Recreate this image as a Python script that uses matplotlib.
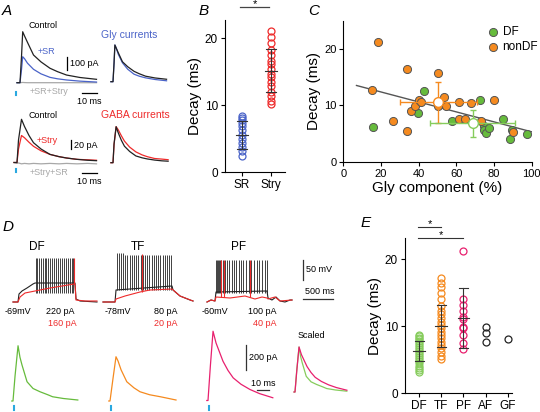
import numpy as np
import matplotlib.pyplot as plt

plt.rcParams['font.family'] = ['Liberation Sans', 'DejaVu Sans']
plt.rcParams['axes.linewidth'] = 0.8

W, H = 540, 412
fig = plt.figure(figsize=(5.4, 4.12), dpi=100)

BLUE = '#4a63c8'
RED = '#ee2a2a'
GREY = '#a8a8a8'
STIM = '#2aa8e0'
GREEN = '#66bb3c'
LGREEN = '#86cc5c'
ORANGE = '#f58a1f'
PINK = '#e8206e'

# ---------------- data ----------------
# A: evoked currents (ms, pA)
t_gly = [-2, 0, 1, 1.8, 3, 5, 9, 14, 20, 25, 31, 40, 51]
gly_ctrl = [0, 0, 200, 392, 360, 310, 213, 160, 111, 85, 59, 40, 26]
gly_sr = [0, 0, 100, 200, 185, 150, 103, 68, 41, 30, 21, 12, 5]
gly_block = [0, 0, 1, 2, 1, 0, 0, 0, 0, 0, 0, 0, 0]

t_gaba = [-2, 0, 1, 3, 5, 8, 11, 16, 22, 28, 33, 40, 47, 53]
gaba_ctrl = [0, 0, 50, 96, 80, 60, 44, 30, 18, 13, 10, 7, 5, 4]
gaba_stry = [0, 0, 30, 60, 55, 45, 36, 26, 18, 13, 10, 7, 6, 5]
gaba_block = [0, -2, -1, -3, -2, -3, -2, -3, -2, -3, -2, -3, -2, -3]

# B
b_cats = ['SR', 'Stry']
b_sr = [8.3, 8.1, 7.7, 7.3, 6.9, 6.3, 5.6, 4.9, 4.3, 3.7, 3.1, 2.4]
b_stry = [21.0, 20.1, 19.2, 18.2, 17.4, 16.6, 16.2, 15.4, 14.7, 14.2, 13.5,
          12.8, 11.9, 11.3, 10.6, 10.1]
b_mean = [5.5, 15.1]
b_sd = [2.1, 3.2]

# C: Gly component (%) vs decay (ms)
df_gly = [15.9, 42.7, 39.5, 57.9, 72.6, 74.5, 74.9, 75.9, 77.5, 85.0, 89.6, 88.5, 97.3]
df_dec = [6.1, 12.6, 8.7, 7.2, 11.0, 6.3, 5.6, 5.1, 6.0, 7.5, 5.6, 4.1, 4.9]
ndf_gly = [18.2, 15.0, 33.8, 50.4, 26.4, 33.6, 35.8, 38.2, 40.0, 41.2, 53.5, 54.5,
           50.3, 61.6, 61.6, 64.4, 68.0, 73.3, 80.2, 89.9]
ndf_dec = [21.2, 12.8, 16.4, 15.8, 7.2, 5.4, 9.0, 9.8, 10.9, 10.5, 11.5, 9.8,
           9.8, 10.6, 7.5, 7.5, 10.4, 7.2, 10.9, 5.2]
ndf_mean = (50.4, 10.5, 20.4, 3.7)   # x, y, xerr, yerr
df_mean = (68.8, 6.8, 22.6, 2.4)

# D: firing patterns (ms, mV)
df_v_t = [0, 83, 100, 150, 233, 333, 367, 1033, 1050, 1117, 1400]
df_v = [-69, -69, -49, -41.5, -34, -24, -21.5, -21.5, -61.5, -66.5, -69]
df_spk = [375, 405, 437, 467, 497, 528, 558, 590, 620, 650, 683, 717, 750,
          783, 817, 850, 883, 917, 950, 983, 1008]
df_vr_t = [0, 83, 117, 200, 367, 617, 1017, 1033, 1050, 1200, 1400]
df_vr = [-69, -69, -56.5, -46.5, -41.5, -34, -24, -24, -64, -66.5, -66.5]
df_spk_r = [1017]

tf_v_t = [0, 200, 217, 1150, 1167, 1283, 1450, 1500]
tf_v = [-78, -78, -48, -38, -48, -63, -73, -75.5]
tf_spk = [233, 267, 300, 333, 370, 407, 443, 480, 517, 553, 590, 627, 663, 700,
          737, 773, 810, 847, 883, 920, 957, 993, 1030, 1067, 1103, 1140]
tf_vr_t = [0, 200, 217, 367, 617, 783, 1150, 1283, 1500]
tf_vr = [-78, -78, -70.5, -63, -53, -48, -45.5, -63, -75.5]
tf_spk_r = [650]

pf_v_t = [0, 67, 133, 150, 1000, 1017, 1083, 1150, 1217, 1300, 1383, 1417]
pf_v = [-60, -55, -57.5, -35, -32.5, -50, -55, -47.5, -57.5, -60, -55, -55]
pf_spk = [150, 167, 183, 200, 217, 239, 267, 300, 333, 372, 412, 450, 488, 528,
          567, 605, 650, 695, 738, 783, 828, 872, 917, 962, 1005]
pf_vr_t = [0, 67, 133, 150, 383, 633, 800, 917, 1000, 1017, 1133, 1217, 1417]
pf_vr = [-60, -55, -57.5, -47.5, -50, -45, -52.5, -47.5, -50, -52.5, -47.5, -57.5, -55]
pf_spk_r = [228, 283, 717]

# D: evoked currents per firing type (ms, pA)
t_dfc = [-1, 0, 1.7, 4.2, 5.8, 7.5, 11.7, 16.7, 22.5, 29, 33, 42, 54]
i_dfc = [0, 0, 200, 442, 350, 288, 154, 100, 74, 50, 34, 20, 8]
t_tfc = [-1, 0, 2.5, 5, 6.7, 9.2, 14, 20, 25, 33, 42, 55]
i_tfc = [0, 0, 180, 354, 320, 250, 154, 105, 74, 50, 34, 8]
t_pfc = [-1, 0, 2, 4.2, 6.7, 12.5, 16.7, 21, 27.5, 35, 43, 54]
i_pfc = [0, 0, 280, 554, 460, 314, 240, 181, 130, 88, 55, 22]

# E
e_cats = ['DF', 'TF', 'PF', 'AF', 'GF']
e_df = [8.7, 8.5, 8.3, 8.1, 7.8, 7.5, 7.2, 6.9, 6.6, 6.3, 6.0, 5.7, 5.4, 5.1,
        4.8, 4.5, 4.1, 3.8, 3.5, 3.1]
e_tf = [17.2, 16.5, 15.8, 15.0, 14.0, 13.0, 12.3, 11.8, 11.2, 10.7, 10.2, 9.7,
        9.2, 8.7, 8.2, 7.7, 7.2, 6.7, 6.2, 5.6, 5.1]
e_pf = [21.2, 14.0, 13.2, 12.2, 11.4, 11.1, 9.9, 9.7, 8.7, 7.5, 6.6]
e_af = [9.85, 8.96, 7.7]
e_gf = [8.1]
e_mean = [6.3, 10.0, 11.2]
e_sd = [1.55, 3.15, 4.5]


# ---------------- helpers ----------------
def trace_ax(x0, y0, x1, y1, tx, ty, sx, sy):
    # box in pixels; data (0,0) sits at pixel (tx, ty); sx, sy pixels per unit
    ax = fig.add_axes([x0 / W, 1 - y1 / H, (x1 - x0) / W, (y1 - y0) / H])
    ax.set_xlim((x0 - tx) / sx, (x1 - tx) / sx)
    ax.set_ylim((ty - y1) / sy, (ty - y0) / sy)
    ax.axis('off')
    return ax


def txt(x, y, s, size=6.5, color='k', ha='center', **kw):
    fig.text(x / W, 1 - y / H, s, size=size, color=color, ha=ha, va='center', **kw)


def data_ax(x0, y0, x1, y1, ls=8.5):
    ax = fig.add_axes([x0 / W, 1 - y1 / H, (x1 - x0) / W, (y1 - y0) / H])
    for sp in ['top', 'right']:
        ax.spines[sp].set_visible(False)
    ax.tick_params(direction='out', length=3, width=0.8, labelsize=ls, pad=2)
    return ax


def norm(v):
    v = np.asarray(v, float)
    return v / v.max()


# ---------------- A ----------------
ax = trace_ax(10, 20, 105, 108, 20, 82.7, 1.5, 0.13)
ax.plot(t_gly, gly_block, color=GREY, lw=0.9)
ax.plot(t_gly, gly_sr, color=BLUE, lw=0.9)
ax.plot(t_gly, gly_ctrl, color='#222222', lw=0.9)
ax.plot([31.3, 31.3], [98, 198], color='k', lw=0.9)
ax.plot([41.3, 51.3], [-79, -79], color='k', lw=0.9)
ax.plot([-2.7, -2.7], [-68, -92], color=STIM, lw=1.5)

ax = trace_ax(108, 25, 172, 90, 113, 81.7, 1.05, 36.7)
ax.plot(t_gly, norm(gly_sr), color=BLUE, lw=0.9)
ax.plot(t_gly, norm(gly_ctrl), color='#222222', lw=0.9)

ax = trace_ax(10, 105, 105, 188, 17, 162.5, 1.5, 0.45)
ax.plot(t_gaba, gaba_block, color=GREY, lw=0.9)
ax.plot(t_gaba, gaba_stry, color=RED, lw=0.9)
ax.plot(t_gaba, gaba_ctrl, color='#222222', lw=0.9)
ax.plot([36, 36], [29, 49], color='k', lw=0.9)
ax.plot([43.3, 53.3], [-23, -23], color='k', lw=0.9)
ax.plot([-0.7, -0.7], [-14, -21], color=STIM, lw=1.5)

ax = trace_ax(108, 105, 172, 170, 113, 162.7, 1.04, 36)
ax.plot(t_gaba, norm(gaba_stry), color=RED, lw=0.9)
ax.plot(t_gaba, norm(gaba_ctrl), color='#222222', lw=0.9)

txt(7, 11, 'A', size=11, style='italic')
txt(43, 25, 'Control')
txt(46, 52, '+SR', color=BLUE)
txt(70, 63, '100 pA', ha='left')
txt(49, 92, '+SR+Stry', color=GREY)
txt(89, 101, '10 ms')
txt(129, 35, 'Gly currents', size=7.5, color=BLUE)
txt(43, 115, 'Control')
txt(47, 140, '+Stry', color=RED)
txt(74, 146, '20 pA', ha='left')
txt(49, 172, '+Stry+SR', color=GREY)
txt(89, 181, '10 ms')
txt(135, 115, 'GABA currents', size=7.5, color=RED)

# ---------------- B ----------------
ax = data_ax(225, 20, 285, 172)
ax.plot(np.zeros(len(b_sr)), b_sr, 'o', mfc='none', mec=BLUE, ms=5, mew=0.9)
ax.plot(np.ones(len(b_stry)), b_stry, 'o', mfc='none', mec=RED, ms=5, mew=0.9)
for i, (m, s) in enumerate(zip(b_mean, b_sd)):
    ax.plot([i - 0.2, i + 0.2], [m, m], color='#333333', lw=0.8)
    ax.plot([i - 0.17, i + 0.17], [m + s, m + s], color='#333333', lw=0.8)
    ax.plot([i - 0.17, i + 0.17], [m - s, m - s], color='#333333', lw=0.8)
    ax.plot([i, i], [m - s, m + s], color='#333333', lw=0.8)
ax.set_xlim(-0.57, 1.48)
ax.set_ylim(0, 22.7)
ax.set_yticks([0, 10, 20])
ax.set_xticks([0, 1])
ax.set_xticklabels(b_cats)
ax.set_ylabel('Decay (ms)', fontsize=11, labelpad=2)
ax.plot([-0.05, 0.93], [24.6, 24.6], color='#444444', lw=0.9, clip_on=False)
ax.text(0.45, 24.3, '*', ha='center', va='bottom', fontsize=8, clip_on=False)
txt(204, 11, 'B', size=11, style='italic')

# ---------------- C ----------------
ax = data_ax(343.3, 20.7, 531.7, 161.7, ls=8)
ax.scatter(df_gly, df_dec, s=34, color=GREEN, edgecolor='#555555', lw=0.7,
           zorder=3, label='DF')
ax.scatter(ndf_gly, ndf_dec, s=34, color=ORANGE, edgecolor='#555555', lw=0.7,
           zorder=3, label='nonDF')
all_x = np.array(df_gly + ndf_gly)
all_y = np.array(df_dec + ndf_dec)
k, b0 = np.polyfit(all_x, all_y, 1)
xf = np.array([7, 100])
ax.plot(xf, k * xf + b0, color='#555555', lw=1.0, zorder=2)
for (mx, my, ex, ey), c in [(ndf_mean, ORANGE), (df_mean, LGREEN)]:
    ax.errorbar(mx, my, xerr=ex, yerr=ey, fmt='o', mfc='white', mec=c, ms=7,
                mew=1.0, ecolor=c, elinewidth=1.0, capsize=2.5, capthick=1.0,
                zorder=4)
ax.set_xlim(0, 100)
ax.set_ylim(0, 25)
ax.set_xticks([0, 20, 40, 60, 80, 100])
ax.set_yticks([0, 10, 20])
ax.set_xlabel('Gly component (%)', fontsize=11, labelpad=2)
ax.set_ylabel('Decay (ms)', fontsize=11, labelpad=2)
ax.legend(loc='upper left', bbox_to_anchor=(0.72, 1.02), frameon=False,
          fontsize=8.5, handlelength=1.0, handletextpad=0.3,
          labelspacing=0.25, borderpad=0.2)
txt(314, 11, 'C', size=11, style='italic')

# ---------------- D ----------------
def spikes(ax, ts, v_lo, v_hi, color, lw=0.6):
    ax.vlines(ts, v_lo, v_hi, color=color, lw=lw)

ax = trace_ax(5, 250, 100, 310, 13, 274.4, 0.06, 0.4)
ax.plot(df_v_t, df_v, color='#222222', lw=0.8)
spikes(ax, df_spk, -46, 41, '#222222')
ax.plot(df_vr_t, df_vr, color=RED, lw=0.8)
spikes(ax, df_spk_r, -24, 41, RED, 0.8)

ax = trace_ax(100, 250, 200, 310, 103, 270.8, 0.06, 0.4)
ax.plot(tf_v_t, tf_v, color='#222222', lw=0.8)
spikes(ax, tf_spk[:4], -48, 44, '#222222')
spikes(ax, tf_spk[4:], -48, 40, '#222222')
ax.plot(tf_vr_t, tf_vr, color=RED, lw=0.8)
spikes(ax, tf_spk_r, -53, 42, RED, 0.8)

ax = trace_ax(200, 250, 340, 310, 207, 278, 0.06, 0.4)
ax.plot(pf_v_t, pf_v, color='#222222', lw=0.8)
spikes(ax, pf_spk, -38, 45, '#222222')
ax.plot(pf_vr_t, pf_vr, color=RED, lw=0.8)
spikes(ax, pf_spk_r, -48, 45, RED, 0.8)
ax.plot([1600, 1600], [-5, 45], color='#333333', lw=0.9)
ax.plot([1600, 2100], [-52.5, -52.5], color='#333333', lw=0.9)

ax = trace_ax(5, 330, 100, 412, 13, 401, 1.2, 0.125)
ax.plot(t_dfc, i_dfc, color=GREEN, lw=0.9)
ax.plot([0.8, 0.8], [-40, -72], color=STIM, lw=1.5)

ax = trace_ax(100, 330, 200, 412, 110, 401, 1.2, 0.125)
ax.plot(t_tfc, i_tfc, color=ORANGE, lw=0.9)
ax.plot([0.8, 0.8], [-40, -72], color=STIM, lw=1.5)

ax = trace_ax(200, 325, 290, 412, 208, 400.5, 1.2, 0.125)
ax.plot(t_pfc, i_pfc, color=PINK, lw=0.9)
ax.plot([0.8, 0.8], [-40, -72], color=STIM, lw=1.5)
ax.plot([31.7, 31.7], [244, 444], color='#333333', lw=0.9)
ax.plot([40.8, 50.8], [84, 84], color='#333333', lw=0.9)

ax = trace_ax(290, 330, 352, 400, 295, 392, 0.96, 45)
ax.plot(t_dfc, norm(i_dfc), color=LGREEN, lw=0.9)
ax.plot(t_pfc, norm(i_pfc), color=PINK, lw=0.9)

txt(8, 227, 'D', size=11, style='italic')
txt(37, 247, 'DF', size=8.5)
txt(138, 247, 'TF', size=8.5)
txt(239, 247, 'PF', size=8.5)
txt(17.5, 312, '-69mV')
txt(60, 312, '220 pA')
txt(62, 323, '160 pA', color=RED)
txt(118, 312, '-78mV')
txt(165.5, 312, '80 pA')
txt(165.5, 323, '20 pA', color=RED)
txt(215, 312, '-60mV')
txt(262, 312, '100 pA')
txt(265, 323, '40 pA', color=RED)
txt(306, 270, '50 mV', ha='left')
txt(305, 291, '500 ms', ha='left')
txt(249, 357, '200 pA', ha='left')
txt(263, 383, '10 ms')
txt(311, 335, 'Scaled')

# ---------------- E ----------------
ax = data_ax(405, 238.3, 512, 393.3)
groups = [(e_df, LGREEN), (e_tf, ORANGE), (e_pf, PINK), (e_af, '#222222'),
          (e_gf, '#222222')]
for i, (vals, c) in enumerate(groups):
    ax.plot(np.full(len(vals), i), vals, 'o', mfc='none', mec=c, ms=5, mew=0.9)
for i, (m, s) in enumerate(zip(e_mean, e_sd)):
    ax.plot([i - 0.27, i + 0.27], [m, m], color='#333333', lw=0.8)
    ax.plot([i - 0.2, i + 0.2], [m + s, m + s], color='#333333', lw=0.8)
    ax.plot([i - 0.2, i + 0.2], [m - s, m - s], color='#333333', lw=0.8)
    ax.plot([i, i], [m - s, m + s], color='#333333', lw=0.8)
ax.set_xlim(-0.65, 4.2)
ax.set_ylim(0, 23.1)
ax.set_yticks([0, 10, 20])
ax.set_xticks(range(len(e_cats)))
ax.set_xticklabels(e_cats)
ax.set_ylabel('Decay (ms)', fontsize=11, labelpad=2)
ax.plot([-0.05, 1.0], [24.8, 24.8], color='#333333', lw=0.8, clip_on=False)
ax.text(0.48, 24.5, '*', ha='center', va='bottom', fontsize=8, clip_on=False)
ax.plot([-0.05, 2.0], [23.2, 23.2], color='#333333', lw=0.8, clip_on=False)
ax.text(1.0, 22.9, '*', ha='center', va='bottom', fontsize=8, clip_on=False)
txt(366, 223, 'E', size=11, style='italic')

fig.savefig('out.png', dpi=100)
